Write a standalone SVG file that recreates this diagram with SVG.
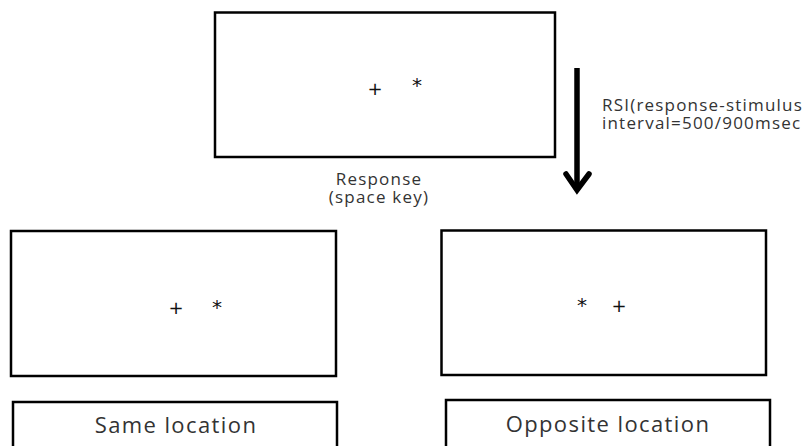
<svg xmlns="http://www.w3.org/2000/svg" width="809" height="446" viewBox="0 0 809 446">
<style>
.box{fill:#fff;stroke:#000;stroke-width:2.5}
.t{font-family:"Open Sans","Noto Sans",sans-serif;fill:#333}
.s{font-size:17px;letter-spacing:1.2px}
.l{font-size:22px;letter-spacing:1.4px;text-anchor:middle}
.sym{font-family:"DejaVu Sans",sans-serif;fill:#111;font-size:18px;text-anchor:middle}
.ast{font-size:20px}
</style>
<rect width="809" height="446" fill="#fff"/>
<g id="top-screen">
<rect class="box" x="215" y="12.5" width="340" height="144.5"/>
<text class="sym" x="375" y="94.5">+</text>
<text class="sym ast" x="417" y="92">*</text>
</g>
<g id="response-label">
<text class="t s" x="379" y="185" text-anchor="middle">Response</text>
<text class="t s" x="379" y="203" text-anchor="middle">(space key)</text>
</g>
<g id="rsi-label">
<text class="t s" x="602" y="111">RSI(response-stimulus</text>
<text class="t s" x="602" y="129">interval=500/900msec</text>
</g>
<g id="same-screen">
<rect class="box" x="11" y="231" width="325" height="145"/>
<text class="sym" x="176" y="313.5">+</text>
<text class="sym ast" x="217" y="314">*</text>
</g>
<g id="opposite-screen">
<rect class="box" x="441.5" y="230.5" width="324.5" height="144.5"/>
<text class="sym ast" x="582" y="312">*</text>
<text class="sym" x="619" y="311.5">+</text>
</g>
<g id="same-label">
<rect class="box" x="13" y="402" width="324" height="60"/>
<text class="t l" x="176" y="433">Same location</text>
</g>
<g id="opposite-label">
<rect class="box" x="446" y="400" width="324" height="60"/>
<text class="t l" x="608" y="432">Opposite location</text>
</g>
<g id="connectors">
<line x1="577" y1="68" x2="577" y2="189" stroke="#000" stroke-width="5.5"/>
<polyline points="566,174 577,190 589,174" fill="none" stroke="#000" stroke-width="5.5" stroke-linecap="round" stroke-linejoin="miter"/>
</g>
</svg>
